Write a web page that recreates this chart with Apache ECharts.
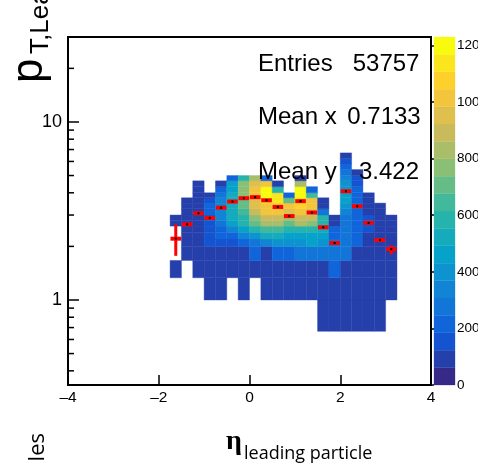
<!DOCTYPE html>
<html><head><meta charset="utf-8">
<script src="https://cdn.jsdelivr.net/npm/echarts@6/dist/echarts.min.js"></script>
<style>html,body{margin:0;padding:0;background:#fff;overflow:hidden}#c{width:478px;height:468px;overflow:hidden}</style>
</head><body><div id="c"></div>
<script>
// ---- data ----
const etaEdges = [-1.75,-1.5,-1.25,-1.0,-0.75,-0.5,-0.25,0,0.25,0.5,0.75,1.0,1.25,1.5,1.75,2.0,2.25,2.5,2.75,3.0,3.25];
const ptEdges = [0.667,1.0,1.333,1.667,2.0,2.2,2.4,2.6,2.8,3.0,3.25,3.5,3.75,4.0,4.33,4.67,5.0,5.4,5.8,6.25,6.7];
// counts[row][col], row = pT bin (low to high), col = eta bin
const counts = [
 [0,0,0,0,0,0,0,0,0,0,0,0,0,90,90,90,90,90,90,0],
 [0,0,0,90,90,0,90,0,90,90,90,90,90,90,90,90,90,90,90,90],
 [90,0,90,90,90,90,90,90,90,90,90,90,90,90,215,90,90,90,90,90],
 [0,90,90,90,90,90,90,215,90,215,215,275,275,275,275,275,90,90,90,90],
 [0,90,90,150,150,150,215,275,340,400,400,400,460,400,275,275,215,90,90,90],
 [0,90,90,150,215,215,340,400,520,520,460,460,460,460,215,275,215,90,90,90],
 [0,90,90,150,215,340,460,585,645,645,585,585,585,520,215,275,215,150,90,90],
 [90,90,90,150,275,460,585,705,830,830,705,830,770,585,90,275,215,150,90,90],
 [90,90,90,150,340,520,585,770,890,890,830,890,890,585,90,275,215,150,90,90],
 [0,90,90,215,340,520,645,890,1015,1015,950,1015,950,275,0,340,215,90,90,0],
 [0,90,90,215,340,520,705,950,1015,1015,1015,1075,1015,90,0,400,215,90,90,0],
 [0,90,90,150,340,520,705,950,1135,1135,705,1135,1015,90,0,460,215,90,0,0],
 [0,0,90,90,275,520,770,1015,1200,1135,215,1200,645,0,0,460,215,90,0,0],
 [0,0,90,0,215,460,770,1015,1200,585,0,1200,215,0,0,400,215,0,0,0],
 [0,0,90,0,90,460,770,950,1015,90,0,830,0,0,0,400,150,0,0,0],
 [0,0,0,0,0,215,585,830,215,0,0,90,0,0,0,340,150,0,0,0],
 [0,0,0,0,0,0,0,0,0,0,0,0,0,0,0,275,90,0,0,0],
 [0,0,0,0,0,0,0,0,0,0,0,0,0,0,0,215,0,0,0,0],
 [0,0,0,0,0,0,0,0,0,0,0,0,0,0,0,150,0,0,0,0],
 [0,0,0,0,0,0,0,0,0,0,0,0,0,0,0,90,0,0,0,0]
];
const profEta  = [-1.625,-1.375,-1.125,-0.875,-0.625,-0.375,-0.125,0.125,0.375,0.625,0.875,1.125,1.375,1.625,1.875,2.125,2.375,2.625,2.875,3.125];
const profMean = [2.21,2.66,3.07,2.89,3.30,3.57,3.73,3.78,3.63,3.33,2.96,3.59,3.10,2.56,2.09,4.08,3.36,2.71,2.17,1.93];
const profLow  = [1.77,2.62,3.04,2.86,3.27,3.55,3.71,3.76,3.61,3.30,2.93,3.56,3.07,2.53,2.06,4.03,3.32,2.67,2.12,1.80];
const profHigh = [2.66,2.70,3.10,2.92,3.33,3.59,3.75,3.80,3.65,3.36,2.99,3.62,3.13,2.59,2.12,4.13,3.40,2.75,2.22,2.03];
const zMax = 1230;
const nContours = 20;
const yMinorTicks = [0.4,0.5,0.6,0.7,0.8,0.9,2,3,4,5,6,7,8,9,20];
const statLabels = ['Entries','Mean x','Mean y'];
const statValues = ['53757','0.7133','3.422'];

// ---- palette (ROOT kBird) ----
const st=[0,.125,.25,.375,.5,.625,.75,.875,1];
const R=[0.2082,0.0592,0.0780,0.0232,0.1802,0.5301,0.8186,0.9956,0.9764];
const G=[0.1664,0.3599,0.5041,0.6419,0.7178,0.7492,0.7328,0.7862,0.9832];
const Bl=[0.5293,0.8684,0.8385,0.7914,0.6425,0.4662,0.3499,0.1968,0.0539];
function bird(t){let i=0;while(i<st.length-2&&t>st[i+1])i++;const f=(t-st[i])/(st[i+1]-st[i]);
 const c=a=>Math.round(255*(a[i]+(a[i+1]-a[i])*f));return 'rgb('+c(R)+','+c(G)+','+c(Bl)+')';}
const bandColors=[];for(let i=0;i<nContours;i++)bandColors.push(bird(i/(nContours-1)));
function colorFor(v){let b=Math.floor(v/(zMax/nContours));if(b>nContours-1)b=nContours-1;if(b<0)b=0;return bandColors[b];}

const cells=[];
for(let r=0;r<counts.length;r++)for(let c=0;c<counts[r].length;c++){const v=counts[r][c];if(v>0)cells.push([etaEdges[c],etaEdges[c+1],ptEdges[r],ptEdges[r+1],v]);}
const bands=[];for(let i=0;i<nContours;i++)bands.push([i*zMax/nContours,(i+1)*zMax/nContours,i]);
const prof=profEta.map((e,i)=>[e,profMean[i],profLow[i],profHigh[i]]);

const FONT='Liberation Sans';
const chart=echarts.init(document.getElementById('c'),null,{renderer:'canvas'});
chart.setOption({
 animation:false,
 backgroundColor:'#fff',
 textStyle:{fontFamily:FONT},
 grid:[{left:68,top:37,width:363,height:348,show:true,borderColor:'#000',borderWidth:2,backgroundColor:'rgba(0,0,0,0)',containLabel:false,outerBoundsMode:'none'},
       {left:434,top:37,width:21,height:348,containLabel:false,outerBoundsMode:'none'}],
 xAxis:[{type:'value',gridIndex:0,min:-4,max:4,interval:2,
   axisLine:{show:true,onZero:false,lineStyle:{color:'#000',width:2}},
   axisTick:{show:true,inside:true,length:10,lineStyle:{color:'#000',width:1.5}},
   axisLabel:{fontSize:15.5,color:'#000',margin:5,fontFamily:FONT,formatter:v=>v<0?'\u2013'+(-v):String(v)},
   splitLine:{show:false}},
  {type:'value',gridIndex:1,min:0,max:1,show:false}],
 yAxis:[{type:'log',logBase:10,gridIndex:0,min:0.333,max:30,
   axisLine:{show:true,onZero:false,lineStyle:{color:'#000',width:2}},
   axisTick:{show:true,inside:true,length:11,lineStyle:{color:'#000',width:1.5}},
   axisLabel:{fontSize:18,color:'#000',margin:6,fontFamily:FONT,showMinLabel:false,showMaxLabel:false,
     formatter:v=>{const r=Math.round(v*1000)/1000;return (r===1||r===10)?String(r):'';}},
   splitLine:{show:false}},
  {type:'value',gridIndex:1,min:0,max:zMax,interval:200,position:'right',
   axisLine:{show:false},
   axisTick:{show:true,inside:true,length:4,lineStyle:{color:'#000',width:1.5}},
   axisLabel:{fontSize:13.5,color:'#000',margin:2,fontFamily:FONT,showMaxLabel:false,hideOverlap:false,formatter:v=>String(Math.round(v))},
   splitLine:{show:false}}],
 series:[
  {type:'custom',xAxisIndex:0,yAxisIndex:0,data:cells,clip:true,z:2,
   encode:{x:[0,1],y:[2,3]},
   renderItem:(p,api)=>{const p0=api.coord([api.value(0),api.value(2)]),p1=api.coord([api.value(1),api.value(3)]);
     const col=colorFor(api.value(4));
     return {type:'rect',shape:{x:p0[0],y:p1[1],width:p1[0]-p0[0],height:p0[1]-p1[1]},style:{fill:col,stroke:col,lineWidth:0.4}};}},
  {type:'custom',xAxisIndex:1,yAxisIndex:1,data:bands,z:2,
   encode:{y:[0,1]},
   renderItem:(p,api)=>{const a=api.coord([0,api.value(0)]),b=api.coord([1,api.value(1)]);
     const col=bandColors[api.value(2)];
     return {type:'rect',shape:{x:a[0],y:b[1],width:b[0]-a[0],height:a[1]-b[1]},style:{fill:col,stroke:col,lineWidth:0.3}};}},
  {type:'custom',xAxisIndex:0,yAxisIndex:0,data:yMinorTicks.map(v=>[-4,v]),z:5,
   encode:{x:0,y:1},
   renderItem:(p,api)=>{const a=api.coord([api.value(0),api.value(1)]);
     return {type:'line',shape:{x1:a[0],y1:a[1],x2:a[0]+6,y2:a[1]},style:{stroke:'#000',lineWidth:1.5}};}},
  {type:'custom',xAxisIndex:0,yAxisIndex:0,data:prof,z:10,
   encode:{x:0,y:[1,2,3]},
   renderItem:(p,api)=>{const e=api.value(0),m=api.value(1);
     const c=api.coord([e,m]),l=api.coord([e-0.117,m]),r=api.coord([e+0.117,m]);
     const lo=api.coord([e,api.value(2)]),hi=api.coord([e,api.value(3)]);
     return {type:'group',children:[
       {type:'line',shape:{x1:c[0],y1:lo[1],x2:c[0],y2:hi[1]},style:{stroke:'#ff0000',lineWidth:3}},
       {type:'rect',shape:{x:l[0],y:c[1]-2,width:r[0]-l[0],height:4},style:{fill:'#ff0000'}},
       {type:'rect',shape:{x:c[0]-1,y:c[1]-1,width:2,height:2},style:{fill:'#000'}}]};}}
 ],
 graphic:[
  {type:'text',z:100,x:258,y:64,style:{text:statLabels[0],font:'24px "Liberation Sans"',fill:'#000',textAlign:'left',textVerticalAlign:'middle'}},
  {type:'text',z:100,x:352.7,y:64,style:{text:statValues[0],font:'24px "Liberation Sans"',fill:'#000',textAlign:'left',textVerticalAlign:'middle'}},
  {type:'text',z:100,x:258,y:117,style:{text:statLabels[1],font:'24px "Liberation Sans"',fill:'#000',textAlign:'left',textVerticalAlign:'middle'}},
  {type:'text',z:100,x:347.3,y:117,style:{text:statValues[1],font:'24px "Liberation Sans"',fill:'#000',textAlign:'left',textVerticalAlign:'middle'}},
  {type:'text',z:100,x:258,y:172,style:{text:statLabels[2],font:'24px "Liberation Sans"',fill:'#000',textAlign:'left',textVerticalAlign:'middle'}},
  {type:'text',z:100,x:359,y:172,style:{text:statValues[2],font:'24px "Liberation Sans"',fill:'#000',textAlign:'left',textVerticalAlign:'middle'}},
  {type:'text',z:100,x:29.5,y:83,rotation:Math.PI/2,style:{text:'p',font:'44px "Liberation Sans"',fill:'#000',textAlign:'left',textVerticalAlign:'middle'}},
  {type:'text',z:100,x:40.5,y:54,rotation:Math.PI/2,style:{text:'T,Leading',font:'26px "Liberation Sans"',fill:'#000',textAlign:'left',textVerticalAlign:'middle'}},
  {type:'text',z:100,x:37.5,y:433,rotation:Math.PI/2,style:{text:'les',font:'22px "Open Sans"',fill:'#000',textAlign:'right',textVerticalAlign:'middle'}},
  {type:'text',z:100,x:226,y:442,style:{text:'\u03B7',font:'bold 28px "Liberation Serif"',fill:'#000',textAlign:'left',textVerticalAlign:'middle'}},
  {type:'text',z:100,x:244,y:454,style:{text:'leading particle',font:'18px "Open Sans"',fill:'#000',textAlign:'left',textVerticalAlign:'middle'}}
 ]
});
</script></body></html>
